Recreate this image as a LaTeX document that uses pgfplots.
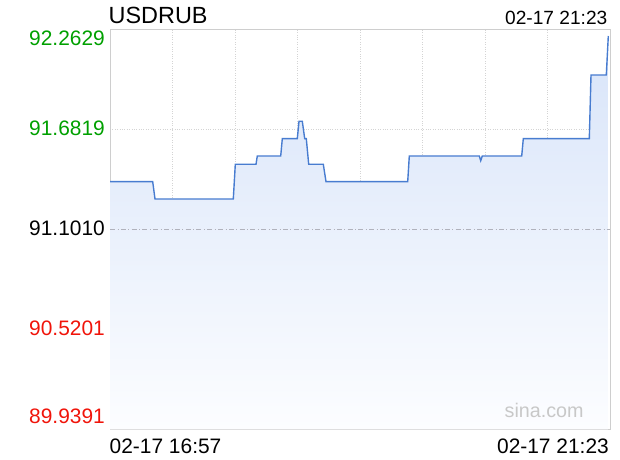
\documentclass[border=0pt]{standalone}
\usepackage{pgfplots}
\usepackage{pgfplotstable}
\pgfplotsset{compat=1.18}
\usepackage{fontspec}
\setmainfont{Liberation Sans}
\definecolor{upgreen}{RGB}{0,160,0}
\definecolor{downred}{RGB}{240,20,10}
\definecolor{linebl}{RGB}{72,124,208}
\definecolor{framegr}{RGB}{206,206,206}
\definecolor{gridgr}{RGB}{212,212,212}
\definecolor{filltop}{RGB}{216,228,249}
\definecolor{fillbot}{RGB}{252,253,255}
\definecolor{sinagr}{RGB}{200,200,200}
\definecolor{basegr}{RGB}{176,178,188}

\pgfplotstableread{
x v
0 91.3788
42.7 91.3788
45 91.2783
123.3 91.2783
125.3 91.4798
146 91.4798
147.3 91.5281
170.7 91.5281
172.3 91.6286
187.3 91.6286
189 91.7296
192.3 91.7296
194.7 91.6286
196.3 91.6286
198.7 91.4798
213.3 91.4798
216 91.3788
297.7 91.3788
299.3 91.5281
369.3 91.5281
370.7 91.5008
372.3 91.5281
411.7 91.5281
413.3 91.6286
479.3 91.6286
481 91.9986
496.3 91.9986
498.3 92.2251
}\usdrub

\begin{document}
\begin{tikzpicture}[x=1bp,y=1bp]
\path[use as bounding box] (0,0) rectangle (620,460);
\begin{axis}[
  at={(110bp,30.5bp)}, anchor=south west,
  scale only axis, width=500bp, height=400bp,
  xmin=0, xmax=500, ymin=89.9391, ymax=92.2629,
  xtick={62.5,125,187.5,250,312.5,375,437.5},
  ytick={90.5201,91.6819},
  xticklabels={}, yticklabels={},
  major tick length=0pt,
  grid=major,
  grid style={gridgr, dotted, line width=0.7pt},
  axis line style={framegr, line width=0.9pt},
  axis on top=false,
]
\addplot[draw=none, top color=filltop, bottom color=fillbot]
  table[x=x, y=v] {\usdrub} -- (axis cs:498.3,89.9391) -- (axis cs:0,89.9391) -- cycle;
\draw[color=basegr, line width=0.8pt, dash pattern=on 5bp off 2.5bp on 0.8bp off 2.5bp]
  (axis cs:0,91.1010) -- (axis cs:500,91.1010);
\addplot[linebl, line width=1.4pt, mark=none] table[x=x, y=v] {\usdrub};
\end{axis}
% y labels
\node[anchor=base east, inner sep=0, text=upgreen, font=\fontsize{21}{24}\selectfont] at (105,414.3) {92.2629};
\node[anchor=base east, inner sep=0, text=upgreen, font=\fontsize{21}{24}\selectfont] at (105,324.3) {91.6819};
\node[anchor=base east, inner sep=0, text=black, font=\fontsize{21}{24}\selectfont] at (105,224.3) {91.1010};
\node[anchor=base east, inner sep=0, text=downred, font=\fontsize{21}{24}\selectfont] at (105,124.3) {90.5201};
\node[anchor=base east, inner sep=0, text=downred, font=\fontsize{21}{24}\selectfont] at (105,36) {89.9391};
% titles
\node[anchor=base west, inner sep=0, font=\fontsize{23.5}{26}\selectfont] at (108.5,436) {USDRUB};
\node[anchor=base east, inner sep=0, font=\fontsize{19.2}{22}\selectfont] at (607.5,435) {02-17 21:23};
\node[anchor=base west, inner sep=0, font=\fontsize{21}{24}\selectfont] at (109.5,6) {02-17 16:57};
\node[anchor=base east, inner sep=0, font=\fontsize{21}{24}\selectfont] at (609,6) {02-17 21:23};
\node[anchor=base west, inner sep=0, text=sinagr, font=\fontsize{19.8}{22}\selectfont] at (504.5,42) {sina.com};
\end{tikzpicture}
\end{document}
